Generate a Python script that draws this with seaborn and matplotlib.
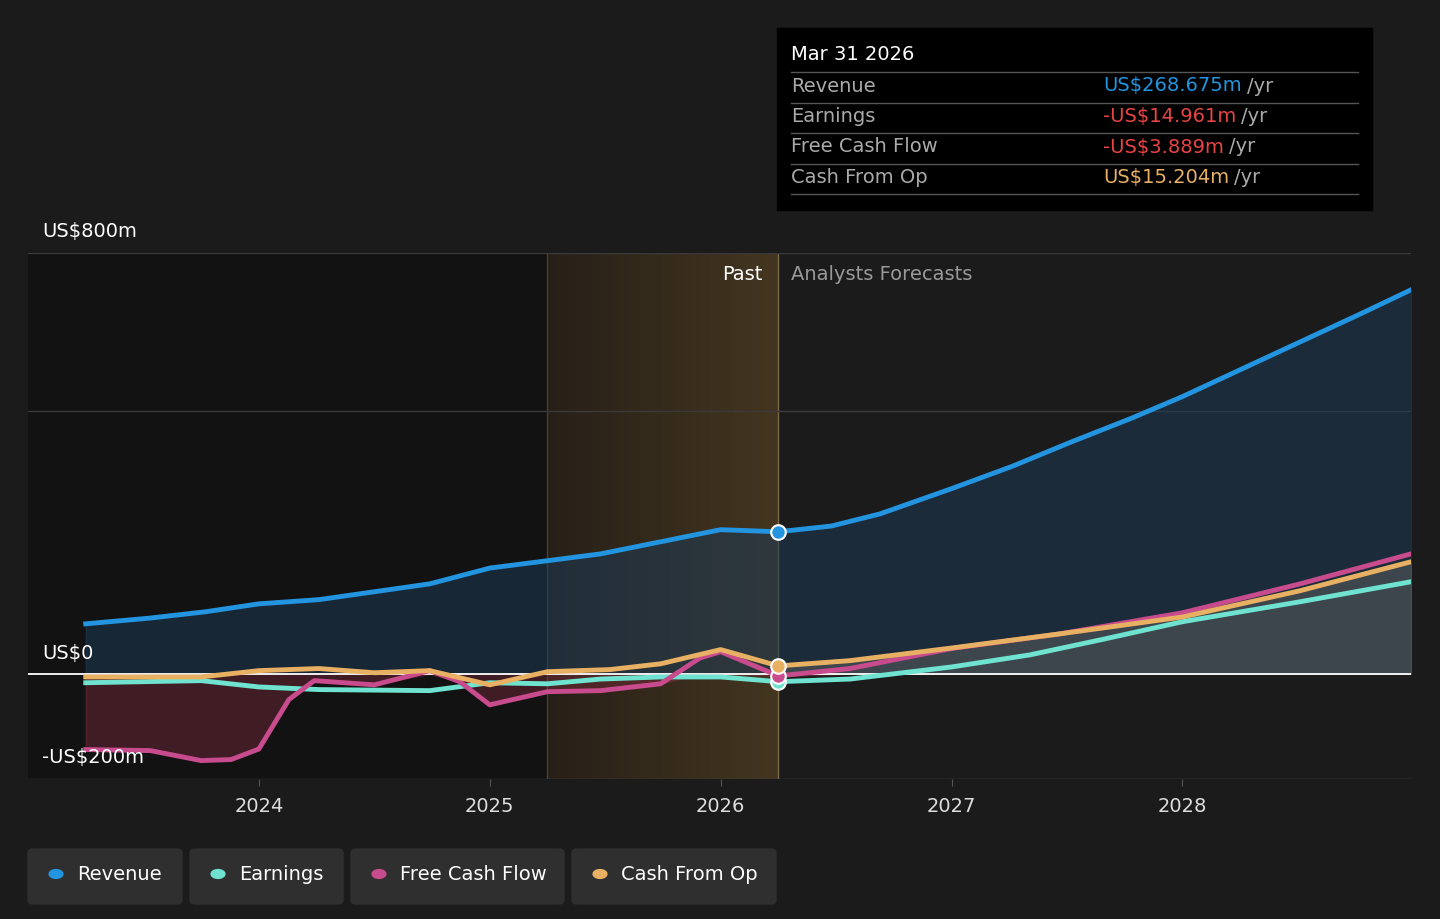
import numpy as np
import pandas as pd
import matplotlib.pyplot as plt
import seaborn as sns
from matplotlib.patches import FancyBboxPatch

rev_x = [2023.25, 2023.53, 2023.77, 2024.0, 2024.26, 2024.5, 2024.74, 2025.0, 2025.25, 2025.48, 2025.74, 2026.0, 2026.25,
         2026.48, 2026.69, 2027.0, 2027.26, 2027.52, 2027.78, 2028.0, 2028.25, 2028.51, 2028.77, 2028.99]
rev_y = [95, 106, 118, 133, 141, 156, 171, 201, 215, 228, 251, 274, 270,
         281, 304, 352, 394, 441, 486, 527, 578, 631, 684, 730]

earn_x = [2023.25, 2023.75, 2024.0, 2024.26, 2024.74, 2025.0, 2025.25, 2025.48, 2025.74, 2026.0, 2026.25,
          2026.56, 2027.0, 2027.34, 2027.65, 2028.0, 2028.51, 2028.99]
earn_y = [-17, -13, -25, -30, -32, -17, -19, -10, -6, -6, -15,
          -10, 13, 36, 65, 99, 137, 175]

fcf_x = [2023.25, 2023.53, 2023.75, 2023.88, 2024.0, 2024.13, 2024.24, 2024.5, 2024.74, 2024.87, 2025.0, 2025.25,
         2025.48, 2025.74, 2025.91, 2026.0, 2026.25, 2026.56, 2027.0, 2027.47, 2028.0, 2028.51, 2028.99]
fcf_y = [-144, -146, -165, -163, -143, -49, -13, -21, 6, -15, -59, -34,
         -32, -19, 30, 42, -4, 10, 48, 76, 116, 171, 228]

cfo_x = [2023.25, 2023.75, 2024.0, 2024.26, 2024.5, 2024.74, 2025.0, 2025.25, 2025.52, 2025.74, 2026.0, 2026.25,
         2026.56, 2027.0, 2027.47, 2028.0, 2028.51, 2028.99]
cfo_y = [-6, -6, 6, 10, 2, 6, -21, 4, 8, 19, 46, 15,
         25, 49, 76, 108, 158, 213]

BG = "#1b1b1b"
C_REV, C_EARN, C_FCF, C_CFO = "#2394df", "#6fe3cf", "#c84b8d", "#e8b062"
NOW = 2026.25

fig = plt.figure(figsize=(14.4, 9.19), dpi=100, facecolor=BG)
ax = fig.add_axes([28 / 1440, 1 - 779 / 919, 1383 / 1440, 526 / 919])
ax.set_facecolor(BG)
ax.set_xlim(2023.0, 2028.99)
ax.set_ylim(-200, 800)

# past background and highlight band
ax.axvspan(2023.0, NOW, color="#121212", zorder=0)
grad = np.linspace(0, 1, 256).reshape(1, -1)
ax.imshow(grad, extent=[2025.25, NOW, -200, 800], aspect="auto", cmap=plt.matplotlib.colors.LinearSegmentedColormap.from_list(
    "g", ["#2a2219", "#4a3a22"]), alpha=0.9, zorder=0.5)
ax.axvline(2025.25, color="#4a4030", lw=1, zorder=1)
ax.axvline(NOW, color="#7a6a45", lw=1, zorder=1)

for y in [500, 800]:
    ax.axhline(y, color="#3a3a3a", lw=1, zorder=1)
ax.axhline(-200, color="#444444", lw=1, zorder=1)

ax.fill_between(rev_x, 0, rev_y, color="#1d3a55", alpha=0.55, zorder=1.5)
ax.fill_between(fcf_x, 0, np.minimum(fcf_y, 0), color="#7a2b3b", alpha=0.45, zorder=1.6)
fx = [x for x in cfo_x if x >= NOW]
fy = [y for x, y in zip(cfo_x, cfo_y) if x >= NOW]
ax.fill_between(fx, 0, fy, color="#666666", alpha=0.45, zorder=1.6)

ax.axhline(0, color="white", lw=1.3, zorder=2)

for xs, ys, c in [(rev_x, rev_y, C_REV), (earn_x, earn_y, C_EARN), (fcf_x, fcf_y, C_FCF), (cfo_x, cfo_y, C_CFO)]:
    sns.lineplot(x=xs, y=ys, color=c, lw=3.5, ax=ax, zorder=3)

for v, c in [(268.675, C_REV), (-14.961, C_EARN), (-3.889, C_FCF), (15.204, C_CFO)]:
    ax.scatter([NOW], [v], s=110, color=c, edgecolor="white", lw=1.5, zorder=5)

ax.set_xticks([2024, 2025, 2026, 2027, 2028])
ax.set_xticklabels(["2024", "2025", "2026", "2027", "2028"], color="#dddddd", fontsize=14)
ax.tick_params(axis="x", length=5, color="#555555", pad=8)
ax.set_yticks([])
for s in ax.spines.values():
    s.set_visible(False)

fig.text(42 / 1440, 1 - 232 / 919, "US$800m", color="white", fontsize=14, va="center")
fig.text(42 / 1440, 1 - 653 / 919, "US$0", color="white", fontsize=14, va="center")
fig.text(42 / 1440, 1 - 758 / 919, "-US$200m", color="white", fontsize=14, va="center")
fig.text(762 / 1440, 1 - 274 / 919, "Past", color="white", fontsize=14, va="center", ha="right")
fig.text(791 / 1440, 1 - 274 / 919, "Analysts Forecasts", color="#999999", fontsize=14, va="center")

# tooltip
fig.patches.append(plt.Rectangle((777 / 1440, 1 - 210 / 919), 595 / 1440, 182 / 919,
                                 transform=fig.transFigure, color="black", zorder=10))
fig.text(791 / 1440, 1 - 55 / 919, "Mar 31 2026", color="white", fontsize=14, va="center", zorder=11)
rows = [("Revenue", "US$268.675m", C_REV), ("Earnings", "-US$14.961m", "#e84545"),
        ("Free Cash Flow", "-US$3.889m", "#e84545"), ("Cash From Op", "US$15.204m", C_CFO)]
for i, (lab, val, c) in enumerate(rows):
    y = 86 + i * 30.5
    fig.lines.append(plt.Line2D([791 / 1440, 1358 / 1440], [1 - (y - 14) / 919] * 2, transform=fig.transFigure,
                                color="#555555", lw=1, zorder=11))
    fig.text(791 / 1440, 1 - y / 919, lab, color="#aaaaaa", fontsize=14, va="center", zorder=11)
    t = fig.text(1103 / 1440, 1 - y / 919, val, color=c, fontsize=14, va="center", zorder=11)
    fig.canvas.draw()
    bb = t.get_window_extent()
    fig.text(bb.x1 / 1440 + 5 / 1440, 1 - y / 919, "/yr", color="#aaaaaa", fontsize=14, va="center", zorder=11)
fig.lines.append(plt.Line2D([791 / 1440, 1358 / 1440], [1 - 194 / 919] * 2, transform=fig.transFigure,
                            color="#555555", lw=1, zorder=11))

# legend buttons
legend = [("Revenue", C_REV, 28, 182), ("Earnings", C_EARN, 190, 343), ("Free Cash Flow", C_FCF, 351, 564),
          ("Cash From Op", C_CFO, 572, 776)]
for lab, c, x0, x1 in legend:
    fig.patches.append(FancyBboxPatch((x0 / 1440, 1 - 904 / 919), (x1 - x0) / 1440, 55 / 919,
                                      boxstyle="round,pad=0,rounding_size=0.004", transform=fig.transFigure,
                                      color="#2f2f2f", zorder=10))
    fig.patches.append(plt.Circle(((x0 + 28) / 1440, 1 - 874 / 919), 0.0048, transform=fig.transFigure,
                                  color=c, zorder=11))
    fig.text((x0 + 49) / 1440, 1 - 874 / 919, lab, color="white", fontsize=14, va="center", zorder=11)

fig.savefig("out.png", dpi=100, facecolor=BG)
